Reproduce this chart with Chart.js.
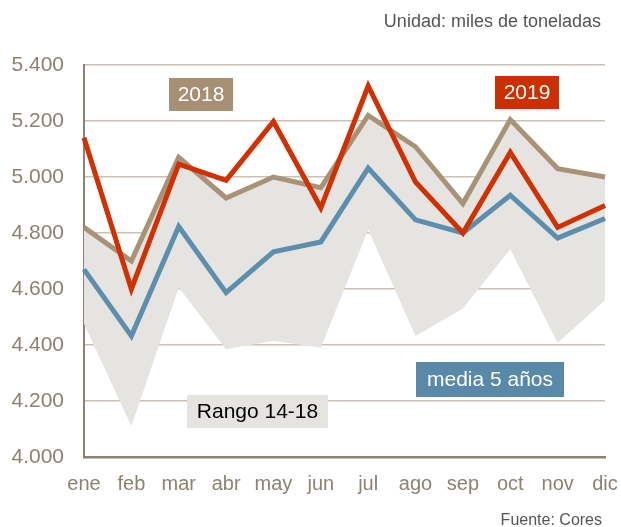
<!DOCTYPE html>
<html lang="es">
  <head>
    <meta charset="UTF-8" />
    <title>Consumo mensual - Cores</title>
    <script src="https://cdn.jsdelivr.net/npm/chart.js"></script>
    <style>
      body { margin: 0; background: #fff; }
    </style>
  </head>
  <body>
    <canvas id="chart" width="621" height="527"></canvas>

    <script>
      // data (miles de toneladas)
      const meses = ["ene", "feb", "mar", "abr", "may", "jun", "jul", "ago", "sep", "oct", "nov", "dic"];
      const serie2018 = [4820, 4700, 5070, 4925, 5000, 4962, 5220, 5108, 4905, 5205, 5030, 5000];
      const serie2019 = [5140, 4600, 5046, 4988, 5198, 4890, 5325, 4982, 4800, 5088, 4820, 4898];
      const media5 = [4670, 4432, 4823, 4587, 4733, 4768, 5032, 4847, 4800, 4935, 4782, 4852];
      const rangoMin = [4475, 4110, 4605, 4385, 4415, 4390, 4812, 4432, 4530, 4742, 4408, 4560];
      const rangoMax = [4820, 4700, 5070, 4925, 5000, 4962, 5220, 5108, 4905, 5205, 5030, 5000];
      const yTicks = [4000, 4200, 4400, 4600, 4800, 5000, 5200, 5400];

      const axisColor = "#8c8272";
      const gridColor = "#c9c1b4";

      function fmt(v) {
        return Math.floor(v / 1000) + "." + String(v % 1000).padStart(3, "0");
      }

      // text boxes and notes
      const labelsPlugin = {
        id: "labels",
        afterDraw(chart) {
          const ctx = chart.ctx;
          ctx.save();
          const boxes = [
            { text: "2018", x: 169, y: 78, w: 64, h: 33, bg: "#a68f73", fg: "#fff" },
            { text: "2019", x: 495, y: 76, w: 64, h: 33, bg: "#cc3000", fg: "#fff" },
            { text: "media 5 años", x: 416, y: 362, w: 148, h: 35, bg: "#5889a8", fg: "#fff" },
            { text: "Rango 14-18", x: 187, y: 395, w: 141, h: 33, bg: "#e6e4e1", fg: "#000" },
          ];
          ctx.font = '21px "Liberation Sans", Arial, sans-serif';
          ctx.textAlign = "center";
          ctx.textBaseline = "middle";
          boxes.forEach((b) => {
            ctx.fillStyle = b.bg;
            ctx.fillRect(b.x, b.y, b.w, b.h);
            ctx.fillStyle = b.fg;
            ctx.fillText(b.text, b.x + b.w / 2, b.y + b.h / 2 + 1);
          });

          ctx.fillStyle = "#555";
          ctx.textAlign = "right";
          ctx.textBaseline = "alphabetic";
          ctx.font = '18px "Liberation Sans", Arial, sans-serif';
          ctx.fillText("Unidad: miles de toneladas", 601, 27);
          ctx.font = '16px "Liberation Sans", Arial, sans-serif';
          ctx.fillText("Fuente: Cores", 602, 525);
          ctx.restore();
        },
      };

      const lineStyle = {
        pointRadius: 0,
        borderWidth: 5,
        tension: 0,
        fill: false,
        borderJoinStyle: "miter",
      };

      new Chart(document.getElementById("chart"), {
        type: "line",
        data: {
          labels: meses,
          datasets: [
            { label: "min", data: rangoMin, pointRadius: 0, borderWidth: 0, fill: false, order: 5 },
            {
              label: "Rango 14-18",
              data: rangoMax,
              pointRadius: 0,
              borderWidth: 0,
              backgroundColor: "#e6e4e1",
              fill: "-1",
              order: 4,
            },
            { label: "media 5 años", data: media5, borderColor: "#5b8fad", order: 3, ...lineStyle },
            { label: "2018", data: serie2018, borderColor: "#a89377", order: 2, ...lineStyle },
            { label: "2019", data: serie2019, borderColor: "#d23000", order: 1, ...lineStyle },
          ],
        },
        options: {
          responsive: false,
          animation: false,
          layout: { padding: { top: 65, right: 16, bottom: 0, left: 0 } },
          plugins: {
            legend: { display: false },
            tooltip: { enabled: false },
          },
          scales: {
            x: {
              offset: false,
              grid: { display: false, drawTicks: false },
              border: { display: true, color: axisColor, width: 2.5 },
              ticks: {
                color: axisColor,
                padding: 15,
                maxRotation: 0,
                autoSkip: false,
                font: { family: '"Liberation Sans", Arial, sans-serif', size: 20 },
              },
              afterFit(scale) {
                scale.height = 70;
                scale.paddingLeft = 0;
                scale.paddingRight = 0;
              },
            },
            y: {
              min: 4000,
              max: 5400,
              afterBuildTicks(scale) {
                scale.ticks = yTicks.map((v) => ({ value: v }));
              },
              grid: { color: gridColor, lineWidth: 1.5, drawTicks: false },
              border: { display: true, color: axisColor, width: 2 },
              ticks: {
                color: axisColor,
                padding: 20,
                callback: (v) => fmt(v),
                font: { family: '"Liberation Sans", Arial, sans-serif', size: 21 },
              },
              afterFit(scale) {
                scale.width = 84;
              },
            },
          },
        },
        plugins: [labelsPlugin],
      });
    </script>
  </body>
</html>
